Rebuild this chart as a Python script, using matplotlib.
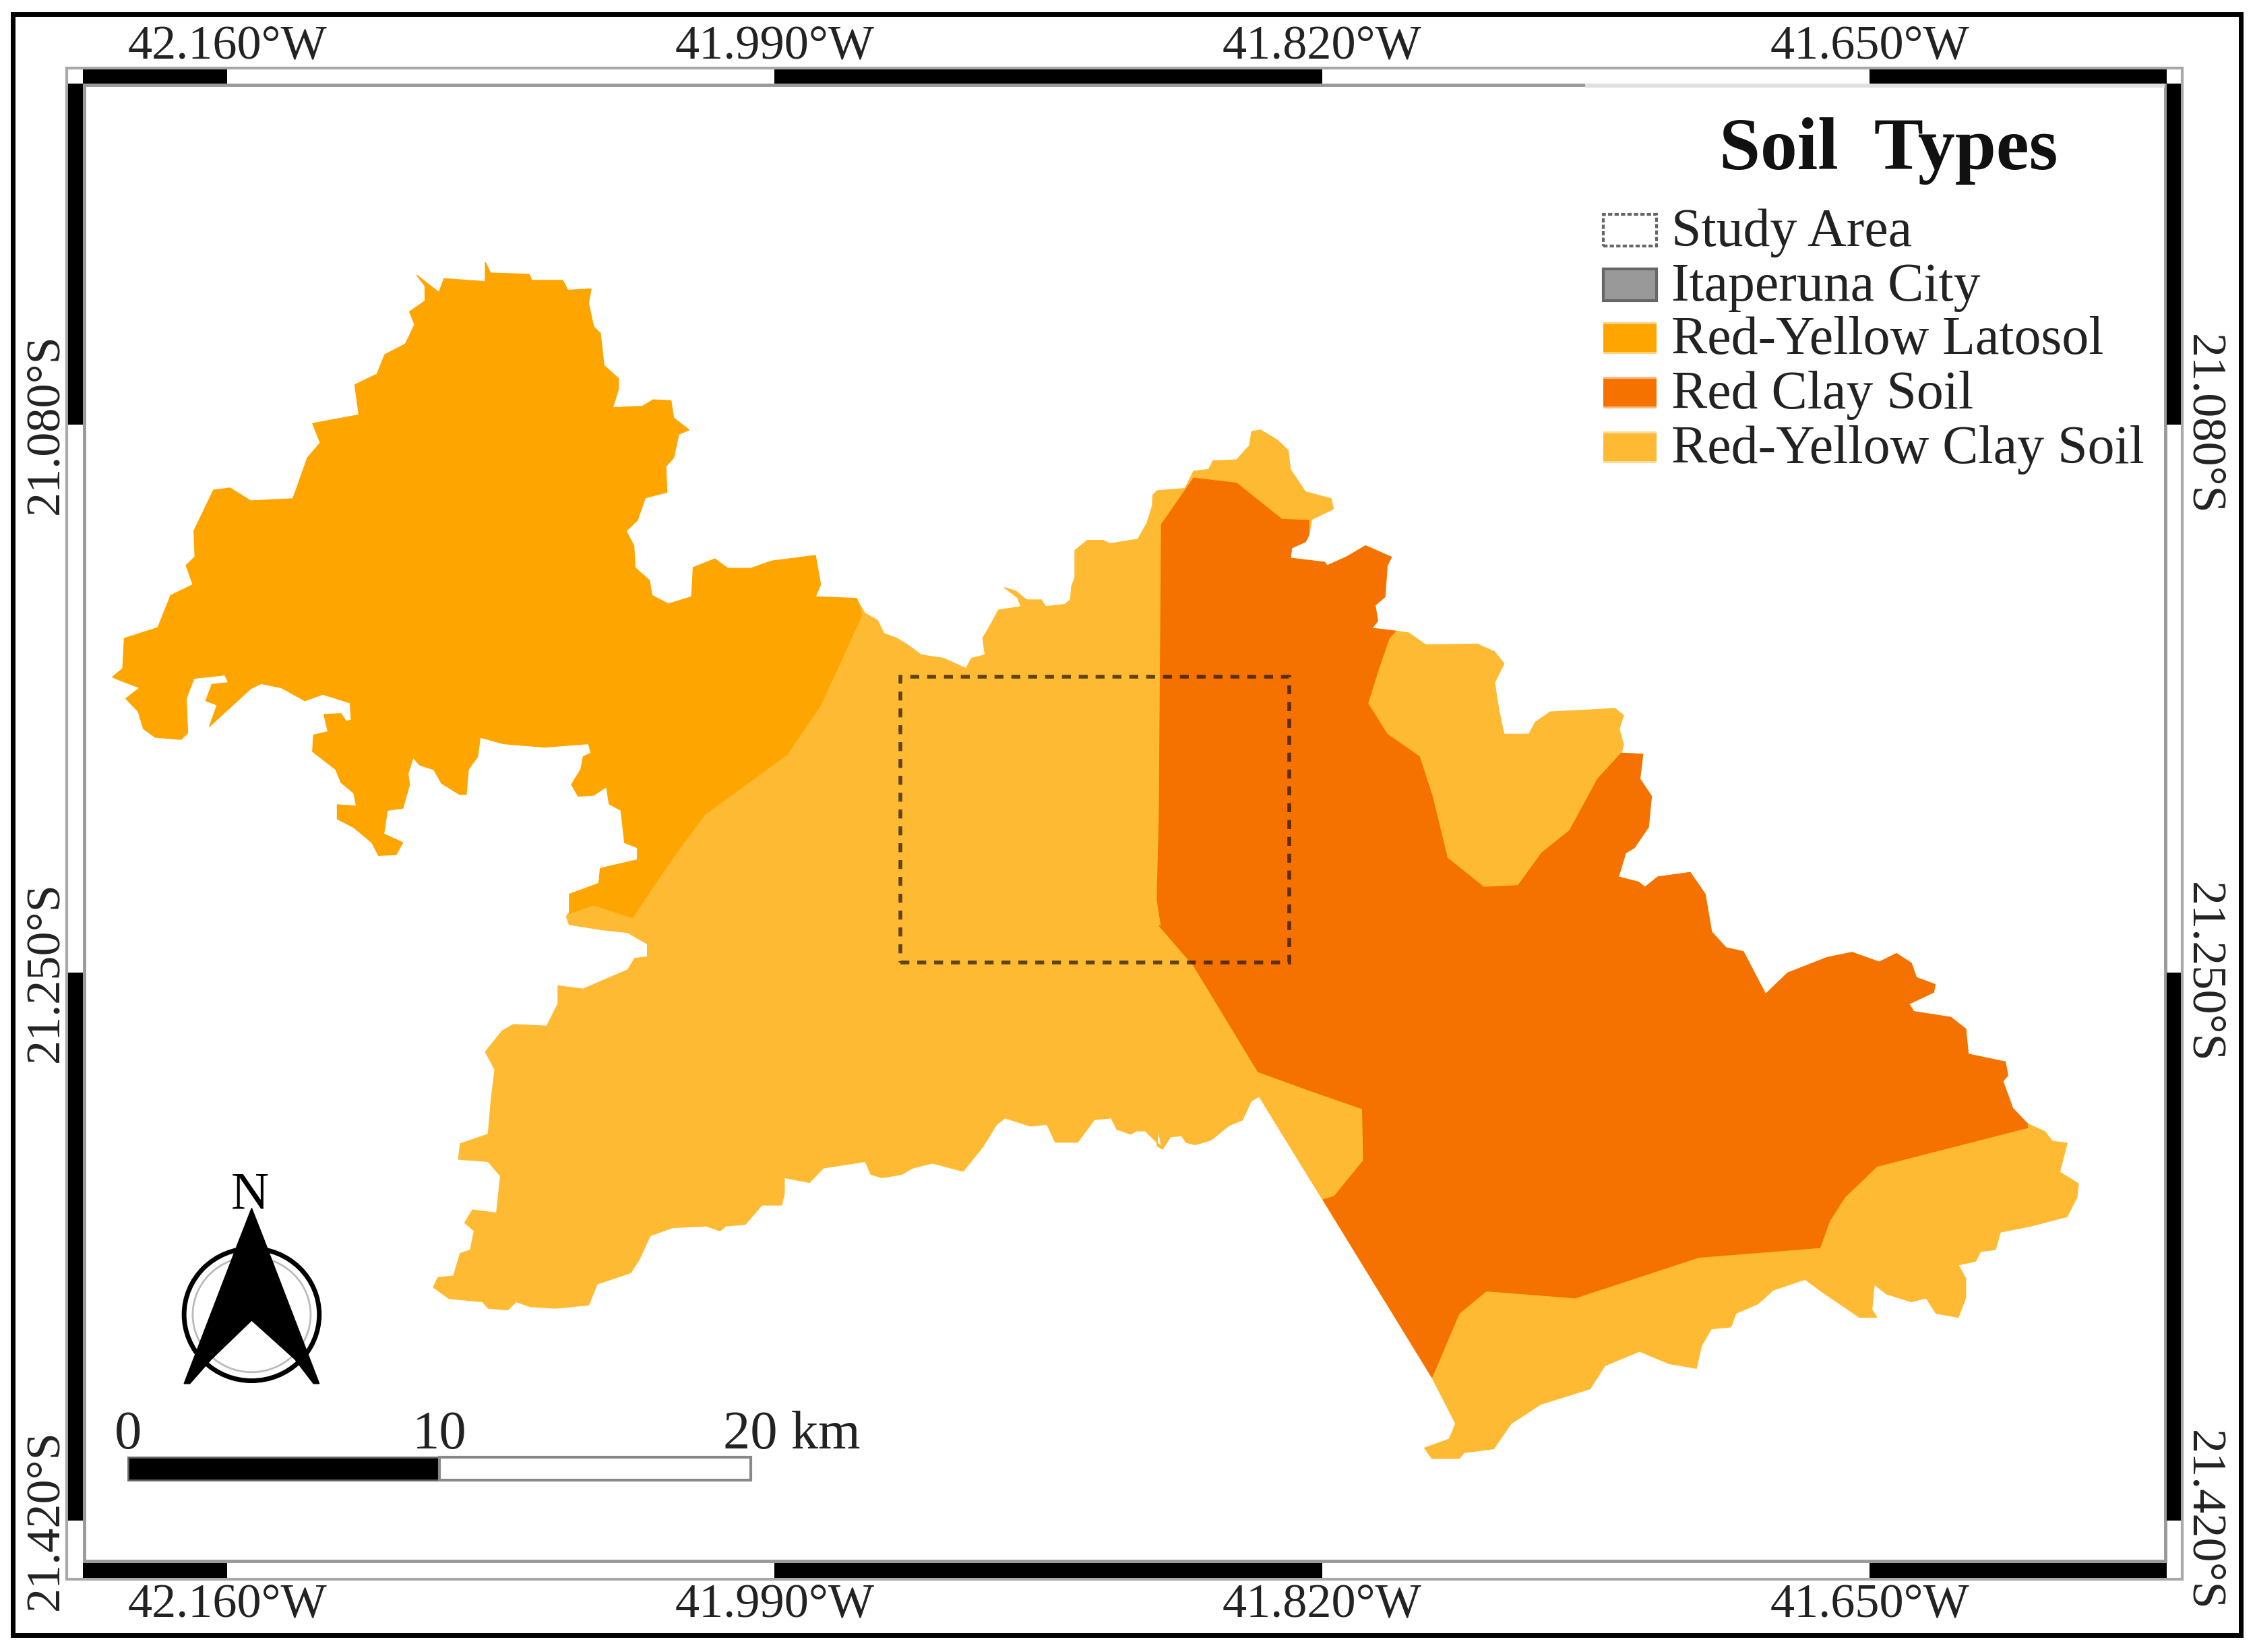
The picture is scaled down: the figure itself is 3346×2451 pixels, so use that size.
import matplotlib
matplotlib.use("Agg")
import matplotlib.pyplot as plt
from matplotlib.patches import Polygon, Rectangle, Ellipse

plt.rcParams["font.family"] = ["Liberation Serif", "DejaVu Serif"]

# boundary points traced off enlarged crops of the map, one list per stretch
# crop: (left, top, width, height, traced width, traced height)
CROP_NW = (150, 370, 1200, 1000, 1568, 1568)
CROP_SW = (600, 1300, 1300, 750, 1568, 1568)
CROP_NE = (1650, 620, 1000, 800, 1568, 1568)
CROP_SE = (2000, 1300, 1150, 900, 1568, 1568)
CROP_N = (1240, 750, 500, 300, 1500, 900)
CROP_S = (1700, 1350, 400, 500, 1200, 1500)

latosol_edge = [
    (745, 30), (755, 55), (830, 58), (835, 72), (895, 72), (905, 95), (950, 92), (945, 125), (955, 180), (968, 195),
    (975, 270), (1003, 300), (1003, 325), (992, 368), (1050, 365), (1070, 350), (1105, 352), (1110, 392), (1140, 420),
    (1120, 430), (1110, 485), (1095, 505), (1097, 565), (1055, 578), (1040, 630), (1018, 655), (1033, 690), (1035, 740),
    (1063, 770), (1068, 805), (1100, 825), (1145, 808), (1148, 740), (1190, 720), (1215, 742), (1260, 742), (1300, 725),
    (1385, 712), (1395, 780), (1385, 808), (1465, 812), (1475, 850), (1445, 930), (1395, 1060), (1330, 1175),
    (1170, 1315), (1100, 1430), (1030, 1555), (955, 1525), (908, 1545), (908, 1500), (965, 1475), (968, 1440),
    (1040, 1420), (1040, 1392), (1015, 1380), (1008, 1305), (985, 1290), (980, 1250), (955, 1270), (925, 1272),
    (912, 1245), (930, 1210), (935, 1180), (950, 1172), (945, 1150), (860, 1158), (780, 1150), (735, 1135), (730, 1180),
    (712, 1210), (708, 1268), (695, 1268), (660, 1242), (645, 1210), (618, 1200), (605, 1182), (595, 1220), (598, 1245),
    (585, 1300), (555, 1305), (548, 1360), (585, 1380), (572, 1408), (538, 1410), (525, 1380), (490, 1345), (458, 1325),
    (458, 1292), (495, 1295), (490, 1265), (465, 1240), (455, 1210), (410, 1168), (412, 1130), (440, 1122), (432, 1082),
    (465, 1080), (475, 1098), (485, 1095), (483, 1055), (430, 1035), (395, 1050), (350, 1020), (310, 1010), (290, 1022),
    (210, 1110), (225, 1060), (203, 1050), (215, 1012), (247, 1008), (240, 990), (180, 998), (165, 1045), (168, 1125),
    (155, 1140), (105, 1135), (82, 1115), (72, 1075), (48, 1045), (75, 1020), (42, 1005), (22, 995), (42, 975),
    (45, 905), (110, 880), (135, 805), (178, 780), (165, 735), (182, 715), (180, 655), (218, 560), (250, 555),
    (290, 585), (372, 580), (400, 485), (425, 450), (410, 405), (500, 385), (492, 315), (535, 290), (550, 245),
    (590, 220), (608, 175), (598, 145), (628, 120), (628, 85), (612, 60), (655, 100), (665, 68), (745, 75),
]
clay_north = [
    (95, 420), (130, 480), (185, 510), (215, 570), (270, 590), (320, 620), (380, 665), (480, 680), (580, 725), (605, 680),
    (665, 665), (655, 590), (690, 530), (725, 465), (825, 450), (810, 410), (750, 365), (800, 380), (850, 420), (915, 420),
    (935, 450), (1020, 440), (1045, 420), (1050, 360), (1065, 320), (1065, 200), (1120, 155), (1190, 155), (1220, 170),
    (1345, 150), (1385, 80), (1410, 0),
]
clay_tip = [
    (95, 225), (105, 212), (170, 205), (190, 155), (225, 150), (235, 125), (290, 122), (320, 80), (325, 40), (345, 35),
    (385, 65), (410, 95), (415, 150), (450, 215), (510, 235), (515, 265), (465, 295),
]
shared_top = [
    (458, 340), (450, 360), (418, 378), (415, 408), (495, 420), (500, 430), (545, 405), (590, 372), (650, 405), (640, 430),
    (635, 520), (612, 545), (618, 590), (605, 612), (660, 620),
]
clay_pocket = [
    (690, 625), (730, 660), (850, 658), (890, 680), (912, 715), (890, 770), (900, 850), (912, 920), (970, 920), (985, 885),
    (1020, 855), (1100, 850), (1170, 845), (1190, 865), (1180, 905), (1190, 950),
]
red_pocket = [
    (645, 640), (620, 730), (595, 830), (640, 920), (715, 985), (745, 1100), (780, 1280), (865, 1365), (945, 1360),
    (1000, 1265), (1065, 1200), (1130, 1050),
]
shared_east = [
    (1185, 975), (1235, 978), (1228, 1050), (1255, 1100), (1248, 1190), (1215, 1250), (1195, 1265), (1178, 1335),
    (1225, 1350), (1240, 1365), (1270, 1335), (1345, 1322), (1380, 1385), (1395, 1495),
]
shared_southeast = [
    (765, 185), (800, 195), (845, 305), (890, 250), (970, 210), (1020, 197), (1075, 222), (1110, 200), (1140, 225),
    (1150, 262), (1188, 280), (1185, 300), (1135, 330), (1145, 350), (1220, 365), (1250, 395), (1255, 460), (1330, 480),
    (1335, 515), (1325, 530), (1345, 600), (1375, 640),
]
clay_southeast = [
    (1410, 660), (1425, 685), (1455, 690), (1440, 765), (1478, 795), (1475, 830), (1455, 880), (1380, 905), (1320, 920),
    (1310, 965), (1280, 970), (1270, 995), (1235, 1005), (1250, 1040), (1250, 1090), (1235, 1140), (1190, 1130),
    (1170, 1090), (1140, 1100), (1090, 1080), (1065, 1055), (1060, 1120), (1070, 1140), (1035, 1140), (960, 1075),
    (925, 1042), (860, 1070), (830, 1105), (785, 1130), (775, 1165), (735, 1170), (715, 1215), (705, 1272), (650, 1260),
    (590, 1228), (520, 1265), (490, 1325), (390, 1365), (330, 1415), (295, 1480), (235, 1490), (225, 1505), (170, 1505),
    (155, 1478), (205, 1455), (218, 1415), (170, 1295),
]
clay_notch = [
    (505, 830), (470, 850), (430, 935), (370, 960), (290, 1025), (220, 1045), (180, 1035), (160, 1005), (110, 1010),
    (75, 1065), (50, 1050), (55, 985), (0, 985),
]
clay_south = [
    (1355, 840), (1350, 790), (1310, 790), (1300, 800), (1275, 785), (1265, 750), (1235, 755), (1205, 825), (1165, 825),
    (1150, 770), (1120, 775), (1075, 750), (1060, 770), (1035, 840), (1000, 915), (945, 890), (910, 905), (890, 925),
    (855, 935), (835, 925), (825, 885), (750, 905), (725, 950), (680, 935), (680, 985), (675, 1020), (640, 1020),
    (610, 1080), (575, 1085), (565, 1100), (540, 1085), (480, 1090), (440, 1115), (420, 1190), (405, 1230), (345, 1265),
    (330, 1330), (270, 1340), (225, 1335), (200, 1320), (185, 1345), (150, 1340), (140, 1320), (80, 1310), (52, 1275),
    (60, 1245), (88, 1240), (100, 1170), (118, 1160), (125, 1100), (108, 1075), (122, 1035), (165, 1045), (172, 930),
    (150, 885), (97, 878), (100, 830), (150, 800), (155, 700), (162, 600), (145, 545), (175, 480), (195, 460), (255, 465),
    (275, 395), (275, 340), (320, 350), (400, 290), (412, 255), (435, 250), (435, 210), (400, 175), (350, 165), (295, 150),
    (290, 125), (300, 100),
]
# runs under the latosol, which is drawn on top
clay_under_latosol = [(960, 1500), (1060, 1450), (1100, 1200), (1400, 900)]
red_head = [(115, 310), (190, 175), (290, 190), (395, 295), (458, 298)]
red_south = [
    (1375, 650), (1070, 750), (1005, 830), (975, 890), (955, 960), (710, 985), (460, 1090), (280, 1072), (225, 1130),
    (170, 1295),
]
red_west = [
    (790, 1290), (840, 1275), (970, 1115), (965, 885), (720, 800), (500, 720), (215, 250), (60, 70),
]
red_west_upper = [(115, 1480), (105, 1400), (110, 1150)]

lon_ticks = [-42.16, -41.99, -41.82, -41.65]
lat_ticks = [-21.08, -21.25, -21.42]
scale_km = [0, 10, 20]
legend_labels = ["Study Area", "Itaperuna City", "Red-Yellow Latosol", "Red Clay Soil", "Red-Yellow Clay Soil"]
legend_colors = ["white", "#999999", "#FFA500", "#F57200", "#FFBA33"]

PX = 3346 / 1568.0
W, H = 1568.0, 2451 / PX
DEG_PER_X = 0.17 / 380.67
DEG_PER_Y = 0.17 / 381.0


def lon(x):
    return -42.16 + (x - 158) * DEG_PER_X


def lat(y):
    return -21.08 - (y - 295) * DEG_PER_Y


def grid_x(lo):
    return 158 + (lo + 42.16) / DEG_PER_X


def grid_y(la):
    return 295 - (la + 21.08) / DEG_PER_Y


def pts(xs, ys):
    return [(lon(x), lat(y)) for x, y in zip(xs, ys)]


def traced(edge, crop):
    left, top, w, h, tw, th = crop
    return [(lon((left + x * w / tw) / PX), lat((top + y * h / th) / PX)) for x, y in edge]


def box(x0, y0, x1, y1, **kw):
    ax.add_patch(Rectangle((lon(x0), lat(y1)), lon(x1) - lon(x0), lat(y0) - lat(y1), **kw))


fig = plt.figure(figsize=(33.46, 24.51), dpi=100)
ax = fig.add_axes([0, 0, 1, 1])
ax.set_xlim(lon(0), lon(W))
ax.set_ylim(lat(H), lat(0))
ax.axis("off")

# soil polygons
clay_outline = (
    traced(clay_north, CROP_N) + traced(clay_tip, CROP_NE) + traced(shared_top, CROP_NE)
    + traced(clay_pocket, CROP_NE) + traced(shared_east, CROP_NE) + traced(shared_southeast, CROP_SE)
    + traced(clay_southeast, CROP_SE) + traced(clay_notch, CROP_S) + traced(clay_south, CROP_SW)
    + traced(clay_under_latosol, CROP_NW)
)
red_outline = (
    traced(red_head, CROP_NE) + traced(shared_top, CROP_NE) + traced(red_pocket, CROP_NE)
    + traced(shared_east, CROP_NE) + traced(shared_southeast, CROP_SE) + traced(red_south, CROP_SE)
    + traced(red_west, CROP_S) + traced(red_west_upper, CROP_NE)
)
ax.add_patch(Polygon(clay_outline, closed=True, fc=legend_colors[4], ec=legend_colors[4], lw=1))
ax.add_patch(Polygon(traced(latosol_edge, CROP_NW), closed=True, fc=legend_colors[2], ec=legend_colors[2], lw=1))
ax.add_patch(Polygon(red_outline, closed=True, fc=legend_colors[3], ec=legend_colors[3], lw=1))

# study area
box(626, 470.5, 896.5, 669, fc="none", ec=(0.1, 0.07, 0.0, 0.7), lw=4, ls=(0, (2.4, 2.1)))

# outer border
box(9, 10, 1558, 1137, fc="none", ec="black", lw=5)

# map frame, alternating at the graticule
FX0, FX1, FY0, FY1 = 47.5, 1516.5, 48.5, 1097
IX0, IX1, IY0, IY1 = 57.5, 1506.5, 58, 1086.5
box(FX0 - 1, FY0 - 1, FX1 + 1, FY1 + 1, fc="none", ec="#a8a8a8", lw=3)
box(IX0 + 1, IY0 + 1, IX1 - 1, IY1 - 1, fc="none", ec="#999999", lw=3.5, zorder=2)

x_edges = [IX0] + [grid_x(v) for v in lon_ticks] + [IX1]
y_edges = [IY0] + [grid_y(v) for v in lat_ticks] + [IY1]
for i in range(len(x_edges) - 1):
    if i % 2 == 0:
        box(x_edges[i], FY0, x_edges[i + 1], IY0, fc="black", ec="none", zorder=3)
        box(x_edges[i], IY1, x_edges[i + 1], FY1, fc="black", ec="none", zorder=3)
for i in range(len(y_edges) - 1):
    if i % 2 == 0:
        box(FX0, y_edges[i], IX0, y_edges[i + 1], fc="black", ec="none", zorder=3)
        box(IX1, y_edges[i], FX1, y_edges[i + 1], fc="black", ec="none", zorder=3)

# the inner top line fades out towards the legend
box(1102, 58, 1505, 61, fc="#e0e0e0", ec="none", zorder=4)

tick_font = 52
for v in lon_ticks:
    label = f"{abs(v):.3f}°W"
    ax.text(v, lat(32.5), label, ha="center", va="center", fontsize=tick_font, color="#222222")
    ax.text(v, lat(1116), label, ha="center", va="center", fontsize=tick_font, color="#222222")
for v in lat_ticks:
    label = f"{abs(v):.3f}°S"
    ax.text(lon(32), v, label, ha="center", va="center", rotation=90, fontsize=tick_font, color="#222222")
    ax.text(lon(1532), v, label, ha="center", va="center", rotation=270, fontsize=tick_font, color="#222222")

# legend
ax.text(lon(1313), lat(105), "Soil  Types", ha="center", va="center", fontsize=79, fontweight="bold", color="#111111")
legend_y = [160, 198, 235, 273, 311]
for label, color, y in zip(legend_labels, legend_colors, legend_y):
    if label == "Study Area":
        box(1115, y - 11, 1152, y + 11, fc=color, ec="#666666", lw=3, ls=(0, (1.5, 0.8)))
    elif label == "Itaperuna City":
        box(1115, y - 11, 1152, y + 11, fc=color, ec="#666666", lw=3)
    else:
        box(1115, y - 11, 1152, y + 11, fc=color, ec="none", alpha=0.5)
        box(1115, y - 9.5, 1152, y + 9.5, fc=color, ec="none")
    ax.text(lon(1162), lat(y + 2), label, ha="left", va="center", fontsize=57.5, color="#222222")

# scale bar
bar_x = [89 + km * 21.65 for km in scale_km]
box(bar_x[0], 1013, bar_x[1], 1029, fc="black", ec="#666666", lw=2)
box(bar_x[1], 1013, bar_x[2], 1029, fc="white", ec="#888888", lw=3)
ax.text(lon(bar_x[0]), lat(1007), "0", ha="center", va="baseline", fontsize=58, color="#222222")
ax.text(lon(bar_x[1]), lat(1007), "10", ha="center", va="baseline", fontsize=58, color="#222222")
ax.text(lon(503), lat(1007), "20 km", ha="left", va="baseline", fontsize=58, color="#222222")

# north arrow
ring = dict(fc="none", ec="black", lw=5)
ax.add_patch(Ellipse((lon(175), lat(914)), 94 * DEG_PER_X, 92 * DEG_PER_Y, **ring))
ax.add_patch(Ellipse((lon(175), lat(914)), 82 * DEG_PER_X, 80 * DEG_PER_Y, fc="none", ec="#bbbbbb", lw=2))
arrow_x = [175, 184, 222, 218, 205, 175, 147, 132, 128, 166]
arrow_y = [840, 863, 962, 962, 945, 918, 945, 962, 962, 863]
ax.add_patch(Polygon(pts(arrow_x, arrow_y), closed=True, fc="black", ec="black", lw=1))
ax.text(lon(174), lat(840), "N", ha="center", va="baseline", fontsize=56, color="black")

fig.savefig("out.png", dpi=100)
